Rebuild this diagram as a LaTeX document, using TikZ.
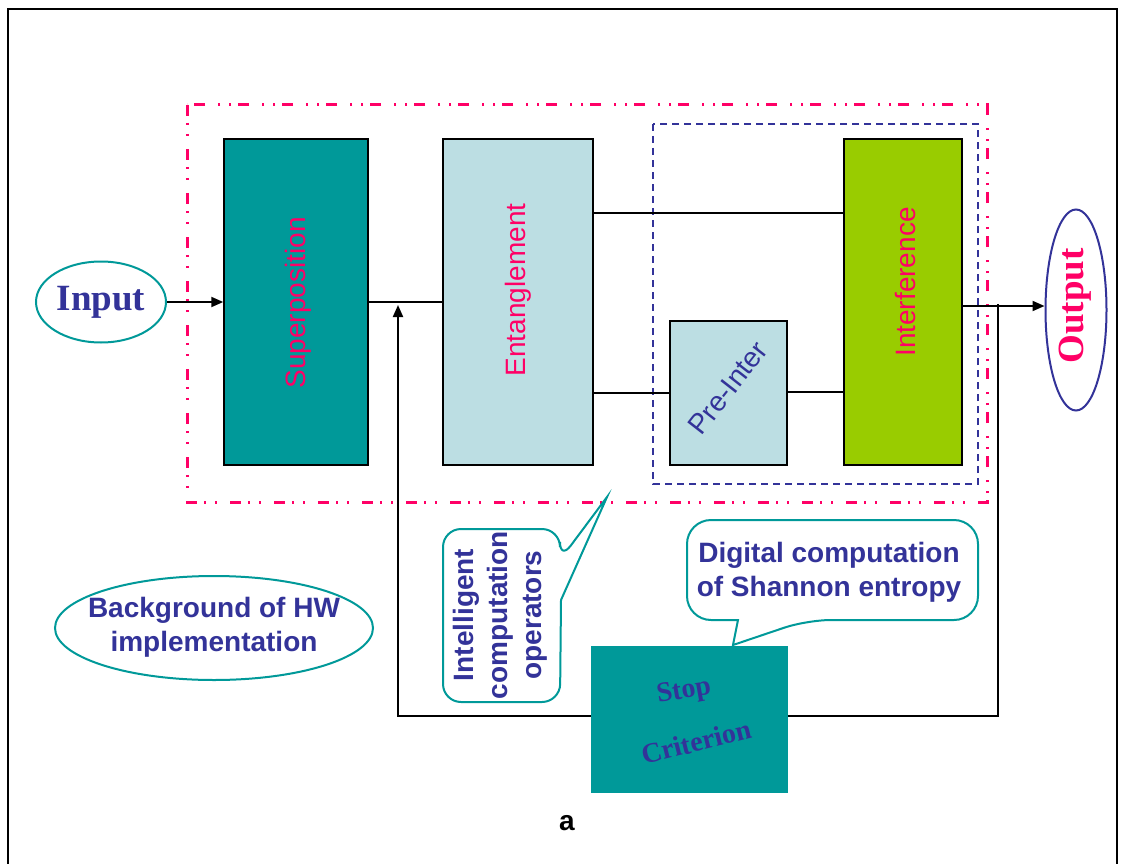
\documentclass[tikz,border=0pt]{standalone}
\usepackage{fontspec}
\setmainfont{Liberation Serif}
\setsansfont{Liberation Sans}
\usetikzlibrary{arrows.meta,shapes.geometric}
\definecolor{ink}{HTML}{333399}
\definecolor{rose}{HTML}{FF0066}
\definecolor{qteal}{HTML}{009999}
\definecolor{qlight}{HTML}{BCDEE3}
\definecolor{qgreen}{HTML}{99CC00}
\tikzset{
  blockbox/.style={draw=black, line width=1.5pt, inner sep=0pt, minimum height=326pt},
  sideword/.style={font=\sffamily\fontsize{28}{33}\selectfont, text=rose, inner sep=0pt},
  boldsans/.style={font=\sffamily\bfseries\fontsize{28}{34}\selectfont, text=ink, inner sep=0pt, align=center},
  stopword/.style={font=\rmfamily\bfseries\fontsize{28}{30}\selectfont, text=ink, inner sep=0pt},
  bubble/.style={draw=qteal, line width=2pt, fill=white},
  wire/.style={line width=2pt},
  arr/.style={line width=2pt, -{Triangle[length=12pt,width=10pt]}},
  hwframe/.style={draw=rose, line width=3pt,
    dash pattern=on 11pt off 7pt on 2pt off 9pt on 2pt off 13pt},
  interframe/.style={draw=ink, line width=2.2pt, dash pattern=on 7pt off 5pt},
}
\begin{document}
\begin{tikzpicture}[x=1pt,y=-1pt]
\useasboundingbox (0,0) rectangle (1124,864);
\fill[white] (0,0) rectangle (1124,864);

% outer frame, open at the bottom
\draw[line width=2.5pt] (8,864) -- (8,9) -- (1117,9) -- (1117,864);

% grouping frames
\draw[hwframe] (187,105) rectangle (987,502);
\draw[interframe] (653,124) rectangle (978,484);

% processing blocks
\node[blockbox, fill=qteal, minimum width=144pt] (sup) at (296,302) {};
\node[blockbox, fill=qlight, minimum width=150pt] (ent) at (518,302) {};
\node[blockbox, fill=qgreen, minimum width=118pt] (intf) at (903,302) {};
\node[blockbox, fill=qlight, minimum width=117pt, minimum height=144pt] (pre) at (728.5,393) {};
\node[fill=qteal, inner sep=0pt, minimum width=197pt, minimum height=147pt] (stop) at (689.5,719.5) {};

\node[sideword, rotate=90] (suplbl) at (298,303) {Superposition};
\node[sideword, rotate=90] (entlbl) at (518,290) {Entanglement};
\node[sideword, rotate=90] (intflbl) at (905,282) {Interference};
\node[sideword, text=ink, rotate=52] (prelbl) at (728,388) {Pre-Inter};

\node[stopword, rotate=10] (stoplbl) at (684,692) {Stop};
\node[stopword, rotate=14] (critlbl) at (696,742) {Criterion};

% input / output terminals
\node[ellipse, draw=qteal, line width=2pt, inner sep=0pt,
      minimum width=130pt, minimum height=81pt] (input) at (101,302) {};
\node[font=\rmfamily\bfseries\fontsize{37}{40}\selectfont, text=ink, inner sep=0pt] (inlbl) at (101,302) {Input};
\node[ellipse, draw=ink, line width=2pt, inner sep=0pt,
      minimum width=61pt, minimum height=201pt] (out) at (1076,310) {};
\node[font=\rmfamily\bfseries\fontsize{37}{40}\selectfont, text=rose, inner sep=0pt, rotate=90] (outlbl) at (1075,306) {Output};

% background note
\node[ellipse, draw=qteal, line width=2pt, inner sep=0pt,
      minimum width=318pt, minimum height=104pt] (bg) at (214,628) {};
\node[boldsans] (bglbl) at (214,627) {Background of HW\\implementation};

% callouts
\draw[bubble] (500,529) [rounded corners=18pt] -- (560,529) -- (560,560)
  [sharp corners] -- (607,497) -- (561,600)
  [rounded corners=18pt] -- (560,702) -- (443,702) -- (443,529) -- cycle;
\node[boldsans, rotate=90] (icolbl) at (500,615) {Intelligent\\computation\\operators};

\draw[bubble] (830,520) [rounded corners=24pt] -- (978,520) -- (978,620) -- (807,620)
  [sharp corners] -- (733,645) -- (738,620)
  [rounded corners=24pt] -- (687,620) -- (687,520) -- cycle;
\node[boldsans] (dcslbl) at (829,572) {Digital computation\\of Shannon entropy};

% signal routing
\coordinate (ytop) at (0,213);
\coordinate (yout) at (0,306);
\coordinate (ylow) at (0,392);
\coordinate (fbr) at (998,304);
\coordinate (fbl) at (398,716);
\coordinate (fbt) at (398,305);

\draw[arr] (input.east) -- (sup.west);
\draw[wire] (sup.east) -- (ent.west);
\draw[wire] (ent.east |- ytop) -- (intf.west |- ytop);
\draw[wire] (ent.east |- pre.west) -- (pre.west);
\draw[wire] (pre.east |- ylow) -- (intf.west |- ylow);
\draw[arr] (intf.east |- yout) -- (out.west |- yout);
\draw[wire] (fbr) |- (stop.east |- fbl);
\draw[arr] (stop.west |- fbl) -| (fbt);

\node[font=\sffamily\bfseries\fontsize{28}{30}\selectfont, inner sep=0pt] (caption) at (567,823) {a};
\end{tikzpicture}
\end{document}
